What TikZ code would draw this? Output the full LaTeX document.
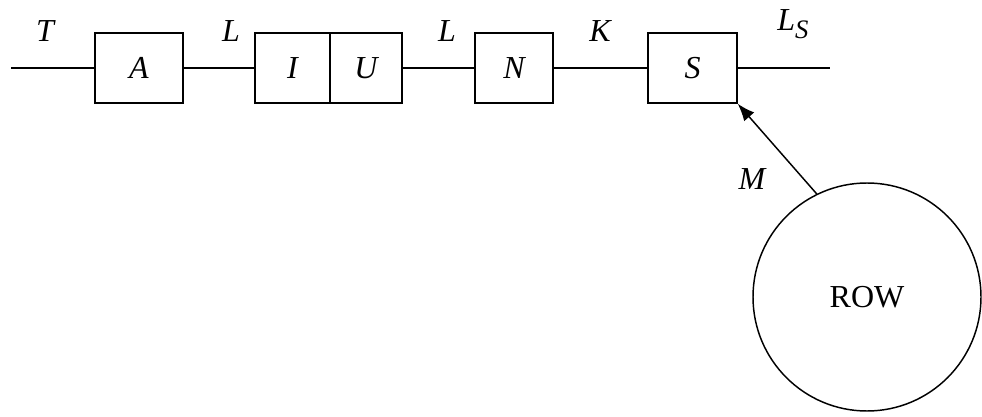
\documentclass[tikz,border=0pt]{standalone}
\usepackage{fontspec}
\setmainfont{Liberation Serif}
\usetikzlibrary{arrows.meta}
\begin{document}
\begin{tikzpicture}[x=0.75pt,y=-0.75pt,line width=1.1pt,
  blk/.style={draw,minimum height=52.5pt,inner sep=0pt,font=\fontsize{24}{28}\selectfont\itshape},
  lbl/.style={anchor=base,font=\fontsize{24}{28}\selectfont\itshape,inner sep=0pt}]
\useasboundingbox (0,0) rectangle (982,417);
\node[blk,minimum width=66pt] (A) at (139,68) {A};
\node[blk,minimum width=56.25pt] (I) at (292.5,68) {I};
\node[blk,minimum width=54pt] (U) at (366,68) {U};
\node[blk,minimum width=58.5pt] (N) at (514,68) {N};
\node[blk,minimum width=66.75pt] (S) at (692.5,68) {S};
\node[draw,circle,minimum size=171pt,inner sep=0pt,font=\fontsize{24}{28}\selectfont] (ROW) at (867,297) {ROW};
\coordinate (start) at (11,68);
\coordinate (end) at (830,68);
\draw (start) -- (A.west);
\draw (A.east) -- (I.west);
\draw (U.east) -- (N.west);
\draw (N.east) -- (S.west);
\draw (S.east) -- (end);
\draw[-{Latex[length=13pt,width=10pt]}] (ROW.116.6) -- (S.south east);
\node[lbl] (t) at (45,42) {T};
\node[lbl] (l1) at (231,42) {L};
\node[lbl] (l2) at (447,42) {L};
\node[lbl] (k) at (600,42) {K};
\node[lbl] (ls) at (793,31) {L\raisebox{-6pt}{\fontsize{20}{24}\selectfont S}};
\node[lbl] (m) at (752,190) {M};
\end{tikzpicture}
\end{document}
